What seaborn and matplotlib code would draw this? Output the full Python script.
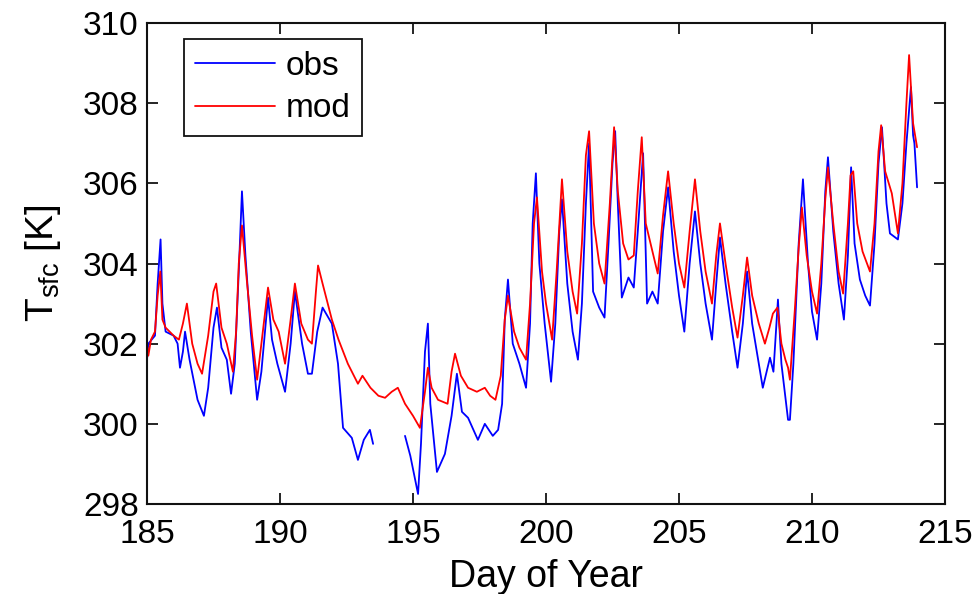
import numpy as np
import pandas as pd
import seaborn as sns
import matplotlib
matplotlib.use("Agg")
import matplotlib.pyplot as plt
from matplotlib.lines import Line2D

# ---- data ----
obs_day = [185.00, 185.05, 185.30, 185.40, 185.51, 185.58, 185.70, 186.00, 186.15, 186.24,
           186.35, 186.43, 186.60, 186.90, 187.14, 187.30, 187.50, 187.63, 187.80, 188.00,
           188.16, 188.30, 188.45, 188.57, 188.70, 188.90, 189.14, 189.30, 189.55, 189.70,
           189.90, 190.19, 190.40, 190.56, 190.83, 191.05, 191.20, 191.40, 191.60, 191.95,
           192.18, 192.37, 192.70, 192.93, 193.15, 193.38, 193.50]
obs_T = [301.6, 302.0, 302.2, 303.5, 304.6, 303.0, 302.3, 302.2, 302.0, 301.4,
         301.8, 302.3, 301.6, 300.6, 300.2, 300.9, 302.4, 302.9, 301.9, 301.6,
         300.75, 301.5, 303.8, 305.8, 304.2, 302.3, 300.6, 301.3, 303.15, 302.1,
         301.5, 300.8, 302.0, 303.3, 302.0, 301.25, 301.25, 302.3, 302.9, 302.5,
         301.5, 299.9, 299.65, 299.1, 299.6, 299.85, 299.5]
obs_day2 = [194.70, 194.90, 195.19, 195.30, 195.45, 195.56, 195.65, 195.90, 196.20, 196.45,
            196.65, 196.84, 197.07, 197.44, 197.70, 198.00, 198.20, 198.35, 198.45, 198.57,
            198.75, 199.00, 199.25, 199.40, 199.50, 199.62, 199.75, 199.95, 200.19, 200.35,
            200.50, 200.60, 200.80, 201.00, 201.20, 201.35, 201.50, 201.62, 201.77, 202.00,
            202.20, 202.35, 202.50, 202.60, 202.70, 202.85, 203.10, 203.30, 203.45, 203.65,
            203.80, 204.00, 204.20, 204.40, 204.59, 204.80, 205.00, 205.20, 205.40, 205.60,
            205.80, 206.00, 206.24, 206.40, 206.54, 206.75, 207.00, 207.20, 207.40, 207.56,
            207.75, 208.00, 208.15, 208.42, 208.55, 208.72, 208.85, 209.10, 209.17, 209.30,
            209.50, 209.66, 209.85, 210.00, 210.19, 210.35, 210.50, 210.60, 210.80, 211.00,
            211.20, 211.35, 211.47, 211.60, 211.80, 212.00, 212.18, 212.35, 212.50, 212.63,
            212.80, 212.93, 213.23, 213.40, 213.55, 213.72, 213.80, 213.85, 213.95]
obs_T2 = [299.7, 299.2, 298.25, 299.5, 301.8, 302.5, 300.5, 298.8, 299.25, 300.2,
          301.25, 300.3, 300.15, 299.6, 300.0, 299.7, 299.85, 300.5, 302.6, 303.6,
          302.0, 301.5, 300.9, 302.5, 305.0, 306.25, 304.0, 302.5, 301.05, 302.5,
          304.8, 305.6, 303.5, 302.3, 301.6, 303.0, 305.5, 307.0, 303.3, 302.9,
          302.65, 304.5, 306.5, 307.3, 305.5, 303.15, 303.65, 303.4, 304.8, 306.75,
          303.0, 303.3, 303.0, 304.8, 305.9, 304.3, 303.2, 302.3, 304.0, 305.3,
          304.0, 303.0, 302.1, 303.5, 304.65, 303.5, 302.3, 301.4, 302.5, 303.8,
          302.5, 301.5, 300.9, 301.65, 301.3, 303.1, 301.5, 300.1, 300.1, 301.5,
          304.5, 306.1, 304.0, 302.8, 302.1, 303.5, 305.8, 306.65, 304.8, 303.5,
          302.6, 304.2, 306.4, 304.5, 303.6, 303.2, 302.95, 304.5, 306.5, 307.4,
          305.5, 304.75, 304.6, 305.5, 307.0, 308.4, 307.2, 307.0, 305.9]

mod_day = [185.00, 185.05, 185.15, 185.30, 185.40, 185.50, 185.58, 185.70, 186.00, 186.20,
           186.35, 186.50, 186.70, 186.90, 187.07, 187.30, 187.50, 187.60, 187.80, 188.00,
           188.23, 188.35, 188.45, 188.57, 188.75, 188.95, 189.14, 189.30, 189.55, 189.75,
           189.95, 190.19, 190.40, 190.56, 190.80, 191.05, 191.20, 191.35, 191.43, 191.60,
           191.95, 192.20, 192.55, 192.93, 193.10, 193.40, 193.70, 193.95, 194.20, 194.43,
           194.70, 195.00, 195.26, 195.45, 195.56, 195.70, 195.94, 196.30, 196.45, 196.58,
           196.80, 197.07, 197.40, 197.70, 197.90, 198.10, 198.30, 198.45, 198.57, 198.80,
           199.00, 199.25, 199.40, 199.55, 199.66, 199.85, 200.00, 200.23, 200.40, 200.60,
           200.80, 201.00, 201.17, 201.35, 201.50, 201.62, 201.80, 202.00, 202.20, 202.40,
           202.56, 202.70, 202.90, 203.10, 203.30, 203.45, 203.60, 203.75, 204.00, 204.20,
           204.40, 204.59, 204.80, 205.00, 205.20, 205.40, 205.60, 205.80, 206.00, 206.24,
           206.40, 206.54, 206.75, 207.00, 207.20, 207.40, 207.56, 207.75, 208.00, 208.23,
           208.40, 208.53, 208.70, 208.85, 209.00, 209.10, 209.17, 209.35, 209.50, 209.62,
           209.80, 210.00, 210.19, 210.35, 210.50, 210.60, 210.80, 211.00, 211.17, 211.35,
           211.45, 211.55, 211.70, 211.90, 212.18, 212.35, 212.50, 212.60, 212.75, 213.00,
           213.23, 213.40, 213.55, 213.65, 213.80, 213.95]
mod_T = [302.0, 301.7, 302.1, 302.3, 303.2, 303.8, 302.6, 302.4, 302.2, 302.1,
         302.5, 303.0, 302.0, 301.5, 301.25, 302.2, 303.3, 303.5, 302.4, 302.0,
         301.3, 302.3, 304.0, 304.95, 303.6, 302.2, 301.1, 302.0, 303.4, 302.6,
         302.3, 301.5, 302.6, 303.5, 302.5, 302.1, 302.0, 303.3, 303.95, 303.5,
         302.6, 302.1, 301.5, 301.0, 301.2, 300.9, 300.7, 300.65, 300.8, 300.9,
         300.5, 300.2, 299.9, 300.8, 301.4, 300.9, 300.6, 300.5, 301.3, 301.75,
         301.2, 300.9, 300.8, 300.9, 300.7, 300.6, 301.2, 302.6, 303.2, 302.3,
         301.9, 301.6, 303.0, 305.0, 305.65, 303.8, 303.0, 302.1, 303.8, 306.1,
         304.3, 303.3, 302.75, 304.5, 306.7, 307.3, 305.0, 304.0, 303.5, 305.5,
         307.4, 305.8, 304.5, 304.1, 304.2, 305.8, 307.15, 305.0, 304.3, 303.75,
         305.2, 306.3, 305.0, 304.0, 303.4, 304.8, 306.1, 304.8, 303.8, 303.0,
         304.2, 305.0, 304.0, 302.9, 302.15, 303.2, 304.15, 303.2, 302.5, 302.0,
         302.4, 302.75, 302.9, 302.0, 301.6, 301.4, 301.1, 302.8, 304.4, 305.4,
         304.2, 303.3, 302.75, 304.0, 305.6, 306.4, 305.0, 303.8, 303.25, 305.0,
         306.2, 306.3, 305.0, 304.3, 303.8, 305.0, 306.8, 307.45, 306.3, 305.75,
         304.75, 306.0, 308.0, 309.2, 307.5, 306.9]

x_ticks = [185, 190, 195, 200, 205, 210, 215]
y_ticks = [298, 300, 302, 304, 306, 308, 310]

# ---- build long table ----
df = pd.concat([
    pd.DataFrame({"day": obs_day, "T": obs_T, "series": "obs", "seg": 0}),
    pd.DataFrame({"day": obs_day2, "T": obs_T2, "series": "obs", "seg": 1}),
    pd.DataFrame({"day": mod_day, "T": mod_T, "series": "mod", "seg": 2}),
], ignore_index=True)

sns.set_style("ticks")
plt.rcParams["font.family"] = ["Liberation Sans", "DejaVu Sans"]
plt.rcParams["mathtext.default"] = "regular"
plt.rcParams["text.color"] = "black"
plt.rcParams["axes.labelcolor"] = "black"

fig = plt.figure(figsize=(9.8, 5.94), dpi=100)
ax = fig.add_axes([147 / 980, 90 / 594, 798 / 980, 481 / 594])

palette = {"obs": "#0000ff", "mod": "#ff0000"}
sns.lineplot(data=df, x="day", y="T", hue="series", units="seg", estimator=None,
             sort=False, palette=palette, linewidth=1.3, legend=False, ax=ax)

ax.set_xlim(185, 215)
ax.set_ylim(298, 310)
ax.set_xticks(x_ticks)
ax.set_yticks(y_ticks)
ax.tick_params(direction="in", length=8, width=1.2, top=True, right=True,
               labelsize=24, colors="black")
ax.tick_params(axis="x", pad=11)
ax.tick_params(axis="y", pad=6)
for s in ax.spines.values():
    s.set_visible(True)
    s.set_linewidth(1.5)
    s.set_color("#111111")

ax.set_xlabel("Day of Year", fontsize=27, labelpad=6)
ax.set_ylabel("T$_{sfc}$ [K]", fontsize=28, labelpad=14)

handles = [Line2D([], [], color="#0000ff", lw=1.3, label="obs"),
           Line2D([], [], color="#ff0000", lw=1.3, label="mod")]
leg = ax.legend(handles=handles, loc="upper left", bbox_to_anchor=(0.046, 0.967),
                fontsize=24, frameon=True, fancybox=False, framealpha=1,
                edgecolor="#111111", handlelength=2.4, handletextpad=0.3,
                borderpad=0.35, labelspacing=0.35, borderaxespad=0)
leg.get_frame().set_linewidth(1.3)

fig.savefig("out.png", dpi=100)
